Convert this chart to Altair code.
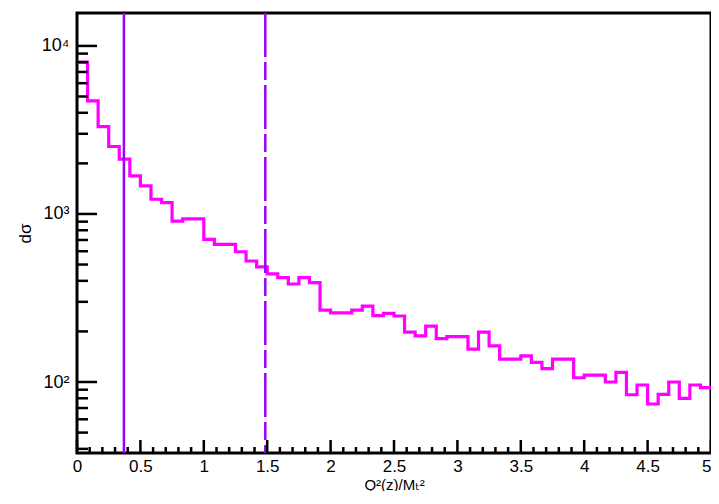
import altair as alt
import pandas as pd

# ---- data ----
n_bins = 60
x_min, x_max = 0.0, 5.0
bin_values = [
    8000, 4710, 3310, 2520, 2120, 1683, 1468, 1223, 1167, 907,
    936, 936, 706, 660, 660, 596, 525, 484, 440, 418,
    383, 418, 390, 268, 258, 258, 268, 283, 248, 256,
    247, 198, 188, 215, 181, 186, 186, 157, 198, 164,
    137, 137, 143, 131, 120, 137, 137, 106, 110, 110,
    100, 114, 84, 96, 74, 84.5, 100, 80, 96, 92.5,
]
cut_solid = [0.37]
cut_dashed = [1.485]

x_major = [0, 0.5, 1, 1.5, 2, 2.5, 3, 3.5, 4, 4.5, 5]
x_minor = [round(0.1 * i, 1) for i in range(51) if i % 5]
y_domain = [37.8, 15700]
y_major = [100, 1000, 10000]
y_major_labels = ["10²", "10³", "10⁴"]
y_minor = [m * 10 ** e for e in (1, 2, 3) for m in range(2, 10)
           if y_domain[0] <= m * 10 ** e <= y_domain[1]]

# ---- tables ----
width_bin = (x_max - x_min) / n_bins
edges = [x_min + i * width_bin for i in range(n_bins + 1)]
hist = pd.DataFrame({"x": edges, "y": bin_values + [bin_values[-1]]})

W, H = 634, 440
magenta = "#ff00ff"
purple = "#9900ff"
font = "Liberation Sans, DejaVu Sans, sans-serif"

xscale = alt.Scale(domain=[x_min, x_max], nice=False, zero=False)
yscale = alt.Scale(type="log", domain=y_domain, nice=False)

label_expr = " : ".join(
    f"datum.value == {v} ? '{l}'" for v, l in zip(y_major, y_major_labels)
) + " : ''"

x_axis = alt.Axis(
    values=x_major, format="~g", ticks=False, domain=False,
    grid=False, labelPadding=5, labelFlush=False, labelOverlap=False,
    labelAlign={"expr": f"datum.value == {x_max} ? 'right' : 'center'"},
    labelColor="black", labelFontSize=17, labelFont=font,
    title="Q²(z)/Mₜ²", titleX=317, titleY=31, titleAlign="center",
    titleBaseline="middle", titleColor="black", titleFontSize=15,
    titleFont=font, titleFontWeight="normal")
y_axis = alt.Axis(
    values=y_major, labelExpr=label_expr, ticks=False,
    domain=False, grid=False, labelPadding=8, labelFlush=False,
    labelOverlap=False, labelColor="black", labelFontSize=18,
    labelFont=font, title="dσ", titleX=-52, titleY=220,
    titleAngle=270, titleAlign="center", titleBaseline="middle",
    titleColor="black", titleFontSize=17, titleFont=font,
    titleFontWeight="normal")

line = alt.Chart(hist).mark_line(
    interpolate="step-after", color=magenta, strokeWidth=3.2, clip=True
).encode(
    x=alt.X("x:Q", scale=xscale, axis=x_axis),
    y=alt.Y("y:Q", scale=yscale, axis=y_axis),
)

solid = alt.Chart(pd.DataFrame({"x": cut_solid})).mark_rule(
    color=purple, strokeWidth=2.5
).encode(x=alt.X("x:Q", scale=xscale, axis=x_axis))

dashed = alt.Chart(pd.DataFrame({"x": cut_dashed})).mark_rule(
    color=purple, strokeWidth=2.5, strokeDash=[44, 5, 18, 5]
).encode(x=alt.X("x:Q", scale=xscale, axis=x_axis))

def xticks(vals, length):
    return alt.Chart(pd.DataFrame({"x": vals})).mark_rule(
        color="black", strokeWidth=2.5
    ).encode(x=alt.X("x:Q", scale=xscale, axis=x_axis),
             y=alt.value(H), y2=alt.value(H - length))

def yticks(vals, length):
    return alt.Chart(pd.DataFrame({"y": vals})).mark_rule(
        color="black", strokeWidth=2.5
    ).encode(y=alt.Y("y:Q", scale=yscale, axis=y_axis),
             x=alt.value(0), x2=alt.value(length))

chart = alt.layer(
    line, solid, dashed,
    xticks(x_major, 13), xticks(x_minor, 6),
    yticks(y_major, 20), yticks(y_minor, 11),
).properties(
    width=W, height=H,
    background="white",
    autosize=alt.AutoSizeParams(type="none"),
    padding={"left": 69, "top": 5, "right": 0, "bottom": 38},
).configure_view(
    stroke="black", strokeWidth=3
)

chart.save("out.html", embed_options={"renderer": "svg", "actions": False})
